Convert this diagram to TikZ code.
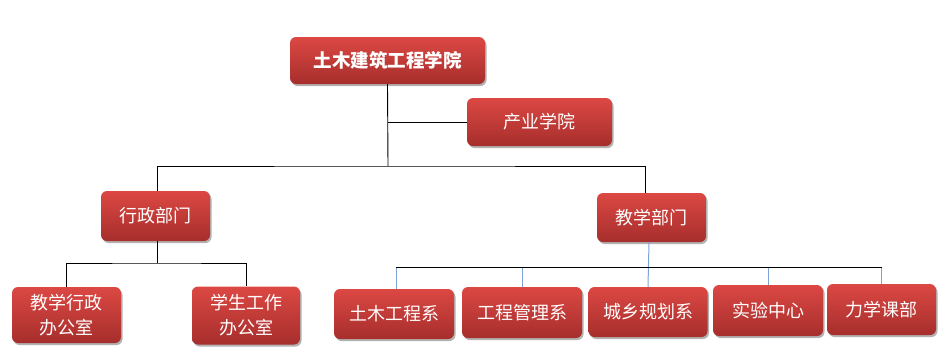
\documentclass[tikz,border=0pt]{standalone}
\usepackage{fontspec}
\newfontfamily\cjk{Noto Sans CJK SC}
\usetikzlibrary{shadows}
\definecolor{boxtop}{HTML}{DC4843}
\definecolor{boxbot}{HTML}{A62E2C}
\definecolor{bluel}{HTML}{7BA3D6}
\begin{document}
\begin{tikzpicture}[x=1pt,y=-1pt,
  box/.style={rounded corners=6pt, draw=none, top color=boxtop, bottom color=boxbot,
    text=white, font=\cjk\fontsize{18}{25}\selectfont, align=center, inner sep=0pt,
    drop shadow={shadow xshift=1.5pt, shadow yshift=-2pt, opacity=0.3, fill=black}},
  conn/.style={draw=black, line width=0.9pt},
  bconn/.style={draw=bluel, line width=1pt}]
\useasboundingbox (0,0) rectangle (946,354);
\node[box, minimum width=195, minimum height=47, font=\cjk\bfseries\fontsize{18.5}{22}\selectfont] (top) at (387.5,60.5) {土木建筑工程学院};
\node[box, minimum width=145, minimum height=48] (cy) at (539.5,122) {产业学院};
\node[box, minimum width=109, minimum height=50] (xz) at (155.5,216) {行政部门};
\node[box, minimum width=109, minimum height=49] (jx) at (651.5,217.5) {教学部门};
\node[box, minimum width=109, minimum height=56] (jxxz) at (66.5,315) {教学行政\\办公室};
\node[box, minimum width=108, minimum height=58] (xsgz) at (246,315.5) {学生工作\\办公室};
\node[box, minimum width=120, minimum height=50] (c1) at (394,314) {土木工程系};
\node[box, minimum width=120, minimum height=51] (c2) at (522,312.5) {工程管理系};
\node[box, minimum width=119, minimum height=50] (c3) at (648,312) {城乡规划系};
\node[box, minimum width=110, minimum height=51] (c4) at (768,310.5) {实验中心};
\node[box, minimum width=109, minimum height=51] (c5) at (881.5,309.5) {力学课部};
% top level connectors
\coordinate (hub) at (388,166);
\coordinate (cyj) at (388,122);
\draw[conn] (top.south) -- (hub);
\draw[conn] (cyj) -- (cy.west);
\draw[conn] ([xshift=1.5pt]xz.north) |- (hub) -| ([xshift=-6pt]jx.north);
% admin children
\coordinate (xzh) at (157,263);
\draw[conn] ([xshift=1.5pt]xz.south) -- (xzh);
\draw[conn] (jxxz.north) |- (xzh) -| (xsgz.north);
% teaching children
\coordinate (jxh) at (649,267);
\draw[bconn] ([xshift=-2.5pt]jx.south) -- (c3.north);
\draw[bconn] ([xshift=2pt]c1.north) -- ++(0,-22);
\draw[bconn] (c2.north) -- ++(0,-20);
\draw[bconn] (c4.north) -- ++(0,-18);
\draw[bconn] (c5.north) -- ++(0,-17);
\draw[conn] ([xshift=2pt]c1.north |- jxh) -- (c5.north |- jxh);
\end{tikzpicture}
\end{document}
